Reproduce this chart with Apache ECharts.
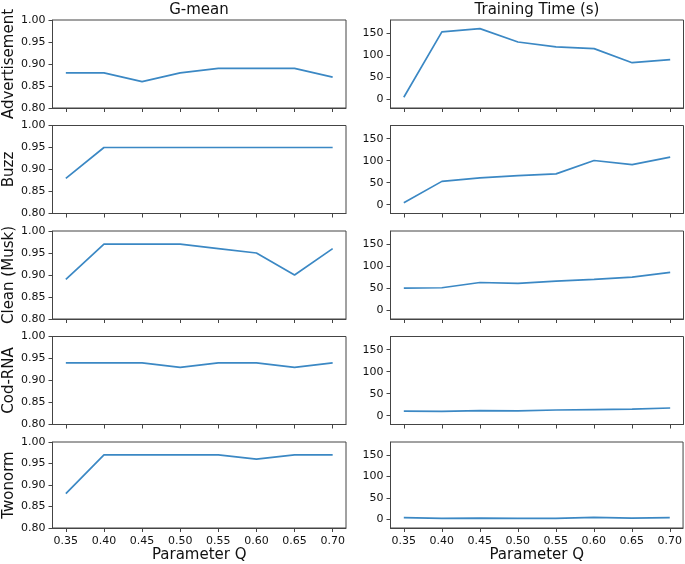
<!DOCTYPE html>
<html>
<head>
<meta charset="utf-8">
<script src="https://cdn.jsdelivr.net/npm/echarts@6/dist/echarts.min.js"></script>
<style>html,body{margin:0;padding:0;background:#fff}#c{width:685px;height:564px}</style>
</head>
<body>
<div id="c"></div>
<script>
const xTicks = [0.35, 0.40, 0.45, 0.50, 0.55, 0.60, 0.65, 0.70];
const datasetNames = ['Advertisement', 'Buzz', 'Clean (Musk)', 'Cod-RNA', 'Twonorm'];
const gmeanTicks = [0.80, 0.85, 0.90, 0.95, 1.00];
const timeTicks = [0, 50, 100, 150];

const gmeanAdvertisement = [0.88, 0.88, 0.86, 0.88, 0.89, 0.89, 0.89, 0.87];
const gmeanBuzz          = [0.88, 0.95, 0.95, 0.95, 0.95, 0.95, 0.95, 0.95];
const gmeanClean         = [0.89, 0.97, 0.97, 0.97, 0.96, 0.95, 0.90, 0.96];
const gmeanCodRNA        = [0.94, 0.94, 0.94, 0.93, 0.94, 0.94, 0.93, 0.94];
const gmeanTwonorm       = [0.88, 0.97, 0.97, 0.97, 0.97, 0.96, 0.97, 0.97];

const timeAdvertisement = [4.5, 153, 160.5, 130, 119, 115, 83, 90];
const timeBuzz          = [4.5, 53, 61, 66, 70, 100.5, 91, 108];
const timeClean         = [50, 51, 63, 61, 66, 70, 75, 86];
const timeCodRNA        = [10.5, 10, 11.5, 11, 13, 14, 15, 17.5];
const timeTwonorm       = [4, 2.5, 3, 2.5, 2.5, 4.5, 3, 4];

const gmeanAll = [gmeanAdvertisement, gmeanBuzz, gmeanClean, gmeanCodRNA, gmeanTwonorm];
const timeAll = [timeAdvertisement, timeBuzz, timeClean, timeCodRNA, timeTwonorm];

const FONT = 'DejaVu Sans';
const TXT = '#111';
const SPINE = '#444';
const LINE = '#3b88c4';
const rowTops = [20, 125.5, 231, 336.5, 442];
const rowH = 88;
const cols = [{left: 52.5, width: 293.5}, {left: 390.5, width: 293}];

const grid = [], xAxis = [], yAxis = [], series = [];
let idx = 0;
for (let r = 0; r < 5; r++) {
  for (let c = 0; c < 2; c++) {
    grid.push({left: cols[c].left, width: cols[c].width, top: rowTops[r], height: rowH,
      show: true, borderColor: SPINE, borderWidth: 1, backgroundColor: 'transparent'});
    const last = r === 4;
    xAxis.push({
      type: 'value', gridIndex: idx, min: 0.3325, max: 0.7175, position: 'bottom',
      splitLine: {show: false}, axisLine: {show: true, onZero: false, lineStyle: {color: SPINE, width: 1}},
      axisTick: {show: true, customValues: xTicks, length: 4, lineStyle: {color: SPINE}},
      axisLabel: {show: last, customValues: xTicks, margin: 8, fontSize: 11, fontFamily: FONT, color: TXT,
        formatter: v => v.toFixed(2)},
      name: last ? 'Parameter Q' : '', nameLocation: 'middle', nameGap: 20,
      nameTextStyle: {fontSize: 15, fontFamily: FONT, color: TXT}
    });
    if (c === 0) {
      yAxis.push({
        type: 'value', gridIndex: idx, min: 0.8, max: 1.0, interval: 0.05, position: 'left',
        splitLine: {show: false}, axisLine: {show: true, onZero: false, lineStyle: {color: SPINE, width: 1}},
        axisTick: {show: true, length: 4, lineStyle: {color: SPINE}},
        axisLabel: {margin: 7, fontSize: 11, fontFamily: FONT, color: TXT, formatter: v => v.toFixed(2)},
        name: datasetNames[r], nameLocation: 'middle', nameGap: 36,
        nameTextStyle: {fontSize: 15, fontFamily: FONT, color: TXT}
      });
      series.push({type: 'line', xAxisIndex: idx, yAxisIndex: idx, showSymbol: false, symbol: 'none',
        lineStyle: {color: LINE, width: 1.7}, itemStyle: {color: LINE},
        data: xTicks.map((x, i) => [x, gmeanAll[r][i]])});
    } else {
      yAxis.push({
        type: 'value', gridIndex: idx, min: -20, max: 180, position: 'left',
        splitLine: {show: false}, axisLine: {show: true, onZero: false, lineStyle: {color: SPINE, width: 1}},
        axisTick: {show: true, customValues: timeTicks, length: 4, lineStyle: {color: SPINE}},
        axisLabel: {customValues: timeTicks, margin: 7, fontSize: 11, fontFamily: FONT, color: TXT}
      });
      series.push({type: 'line', xAxisIndex: idx, yAxisIndex: idx, showSymbol: false, symbol: 'none',
        lineStyle: {color: LINE, width: 1.7}, itemStyle: {color: LINE},
        data: xTicks.map((x, i) => [x, timeAll[r][i]])});
    }
    idx++;
  }
}

const chart = echarts.init(document.getElementById('c'), null, {renderer: 'canvas'});
chart.setOption({
  animation: false,
  textStyle: {fontFamily: FONT},
  title: [
    {text: 'G-mean', left: 199, top: 3, textAlign: 'center', padding: 0,
      textStyle: {fontSize: 15, fontWeight: 'normal', fontFamily: FONT, color: TXT}},
    {text: 'Training Time (s)', left: 537, top: 3, textAlign: 'center', padding: 0,
      textStyle: {fontSize: 15, fontWeight: 'normal', fontFamily: FONT, color: TXT}}
  ],
  grid, xAxis, yAxis, series
});
</script>
</body>
</html>
